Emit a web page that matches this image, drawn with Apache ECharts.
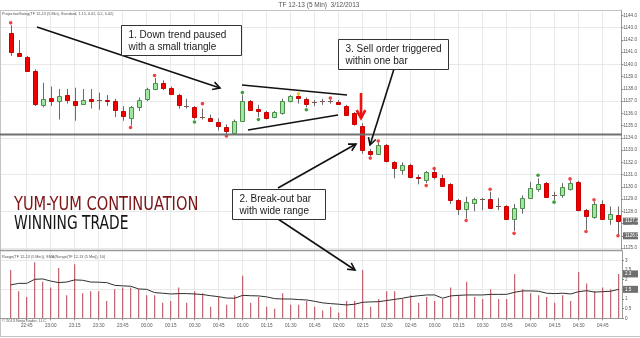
<!DOCTYPE html>
<html>
<head>
<meta charset="utf-8">
<script src="https://cdn.jsdelivr.net/npm/echarts@6/dist/echarts.min.js"></script>
<style>
  html, body { margin: 0; padding: 0; background: #fff; }
  #chart { width: 640px; height: 338px; }
</style>
</head>
<body>
<div id="chart"></div>
<script>
// ---- TF 12-13, 5 minute bars, 3/12/2013 ----
const barTimes = [
  '22:35','22:40','22:45','22:50','22:55','23:00','23:05','23:10','23:15','23:20',
  '23:25','23:30','23:35','23:40','23:45','23:50','23:55','00:00','00:05','00:10',
  '00:15','00:20','00:25','00:30','00:35','00:40','00:45','00:50','00:55','01:00',
  '01:05','01:10','01:15','01:20','01:25','01:30','01:35','01:40','01:45','01:50',
  '01:55','02:00','02:05','02:10','02:15','02:20','02:25','02:30','02:35','02:40',
  '02:45','02:50','02:55','03:00','03:05','03:10','03:15','03:20','03:25','03:30',
  '03:35','03:40','03:45','03:50','03:55','04:00','04:05','04:10','04:15','04:20',
  '04:25','04:30','04:35','04:40','04:45','04:50','04:55'
];

const opens = [
  1142.6,1140.9,1140.6,1139.5,1136.7,1137.3,1137.0,1137.5,1137.0,1136.8,
  1137.2,1137.1,1137.1,1137.0,1136.2,1135.6,1136.5,1137.2,1138.0,1138.5,
  1138.1,1137.5,1136.6,1136.5,1135.7,1135.6,1135.3,1134.9,1134.4,1135.4,
  1137.0,1136.4,1136.1,1135.7,1136.0,1137.0,1137.4,1137.2,1136.9,1137.0,
  1137.0,1136.9,1136.6,1136.0,1135.0,1132.9,1132.7,1133.4,1132.0,1131.4,
  1131.8,1130.8,1130.6,1131.2,1130.7,1130.2,1128.9,1128.2,1128.7,1129.0,
  1129.0,1128.4,1128.4,1127.4,1128.3,1129.1,1129.8,1130.3,1129.3,1129.3,
  1129.8,1130.4,1128.1,1127.5,1128.6,1127.4,1127.7
];
const highs = [
  1143.2,1142.0,1140.7,1139.6,1138.5,1138.2,1138.0,1138.0,1138.1,1138.0,
  1138.0,1137.7,1137.5,1137.2,1136.6,1136.6,1137.3,1138.1,1138.9,1138.7,
  1138.2,1137.6,1137.2,1136.6,1136.4,1135.9,1135.6,1135.1,1135.5,1137.5,
  1137.1,1136.7,1136.2,1136.2,1137.2,1137.5,1137.5,1137.3,1137.1,1137.2,
  1137.1,1137.1,1136.7,1136.1,1135.2,1133.1,1133.6,1133.5,1132.1,1132.0,
  1131.9,1131.0,1131.3,1131.4,1131.0,1130.3,1129.0,1129.2,1129.1,1129.1,
  1129.6,1129.1,1128.5,1128.6,1129.3,1130.4,1130.7,1130.4,1129.6,1130.3,
  1130.5,1130.5,1128.2,1128.8,1128.9,1128.4,1128.4
];
const lows = [
  1140.7,1140.6,1139.5,1136.6,1136.5,1136.6,1135.5,1136.8,1135.4,1136.7,
  1136.4,1136.3,1136.6,1135.7,1135.4,1135.0,1136.2,1137.0,1137.9,1137.9,
  1137.5,1136.4,1136.4,1135.5,1135.5,1135.3,1134.6,1134.3,1134.3,1135.3,
  1136.2,1135.7,1135.5,1135.6,1135.9,1136.9,1136.8,1136.5,1136.6,1136.7,
  1136.8,1136.7,1135.8,1135.0,1132.7,1132.5,1132.6,1132.0,1130.7,1131.0,
  1130.7,1130.2,1130.3,1130.6,1130.0,1128.6,1127.7,1127.4,1128.0,1128.1,
  1128.2,1128.1,1127.4,1126.4,1127.8,1129.0,1129.6,1129.2,1128.9,1129.1,
  1129.7,1128.0,1126.5,1127.4,1127.3,1126.9,1126.1
];
const closes = [
  1141.0,1140.7,1139.5,1136.8,1137.2,1137.0,1137.4,1137.1,1136.7,1137.1,
  1137.0,1137.1,1137.0,1136.3,1135.8,1136.5,1137.1,1138.0,1138.5,1138.1,
  1137.6,1136.7,1136.6,1135.7,1135.7,1135.4,1135.0,1134.6,1135.4,1137.0,
  1136.3,1136.2,1135.6,1136.1,1137.0,1137.4,1137.3,1136.8,1136.9,1137.0,
  1137.0,1136.8,1135.9,1135.1,1133.0,1132.7,1133.4,1132.1,1131.5,1131.8,
  1130.8,1130.7,1131.2,1130.8,1130.1,1128.9,1128.2,1128.8,1129.0,1129.0,
  1128.3,1128.4,1127.4,1128.3,1129.1,1129.9,1130.2,1129.2,1129.3,1130.0,
  1130.3,1128.1,1127.6,1128.6,1127.4,1127.8,1127.2
];

// ProjectionSwing markers: [bar index, price]
const swingRed = [
  [0,1143.4],[15,1134.85],[18,1139.1],[24,1136.8],[27,1134.15],[40,1137.25],
  [45,1132.35],[46,1133.75],[52,1130.1],[53,1131.5],[57,1127.25],[60,1129.8],
  [63,1126.2],[70,1130.65],[72,1126.35],[73,1128.95],[76,1126.0]
];
const swingGreen = [[23,1135.3],[29,1137.7],[31,1135.5],[37,1136.3],[66,1130.95],[68,1128.75]];
const swingYellow = [[36,1137.6]];

// Range and its 10-period SMA
const ranges = [
  2.5,1.4,1.1,2.9,1.9,1.6,2.6,1.2,2.8,1.3,1.4,1.4,0.9,1.5,1.6,1.6,1.5,1.2,1.2,0.8,
  0.9,1.6,0.8,1.4,1.3,0.6,1.1,0.7,1.2,2.2,0.8,1.1,0.6,0.5,1.3,0.7,0.7,0.9,0.6,0.4,
  0.6,0.3,0.9,0.9,2.5,0.6,1.0,1.4,1.4,1.0,1.2,0.8,1.1,0.9,1.0,1.6,1.2,1.9,1.1,1.0,
  1.5,1.0,1.0,2.3,1.5,1.3,1.2,1.1,0.8,1.2,0.9,2.4,1.8,1.4,1.6,1.5,2.3
];
const rangeSma = [
  1.73,1.81,1.81,2.02,2.04,1.93,1.85,1.88,1.99,1.97,1.88,1.87,1.85,1.71,1.68,1.66,1.52,1.50,1.33,1.30,
  1.26,1.28,1.28,1.26,1.23,1.17,1.12,1.05,1.04,1.19,1.17,1.16,1.11,1.02,1.00,1.00,0.97,0.95,0.88,0.80,
  0.76,0.73,0.69,0.73,0.83,0.85,0.86,0.92,0.98,1.04,1.12,1.17,1.21,1.21,1.04,1.16,1.19,1.21,1.21,1.21,
  1.24,1.24,1.24,1.35,1.42,1.42,1.40,1.30,1.28,1.30,1.26,1.38,1.43,1.36,1.38,1.40,1.50
];

const priceTicks = [1125,1126,1127,1128,1129,1130,1131,1132,1133,1134,1135,1136,1137,1138,1139,1140,1141,1142,1143,1144];
const rangeTicks = [0,0.5,1,1.5,2,2.5,3];
const supportLevel = 1134.3;   // swing low of the down leg
const swingLevel = 1126.0;     // current projection swing level

// ---- layout ----
const PLOT_L = 10.7, PLOT_R = 21.3, FRAME_R = 622;
const P_TOP = 10, P_H = 240, P_MIN = 1124.84, P_MAX = 1144.45;
const R_TOP = 250.75, R_H = 67.55, R_MIN = 0, R_MAX = 3.5;
const pY = p => P_TOP + (P_MAX - p) / (P_MAX - P_MIN) * P_H;
const rY = v => R_TOP + (R_MAX - v) / (R_MAX - R_MIN) * R_H;

const labelEvery = idx => idx >= 2 && (idx - 2) % 3 === 0;
const GRID_C = '#e9e9e9';
const tiny = 4.6;

const chart = echarts.init(document.getElementById('chart'), null, { renderer: 'canvas' });

const candleData = opens.map((o, i) => [i, o, closes[i], lows[i], highs[i]]);

chart.setOption({
  animation: false,
  backgroundColor: '#fff',
  grid: [
    { left: PLOT_L, right: PLOT_R, top: P_TOP, height: P_H },
    { left: PLOT_L, right: PLOT_R, top: R_TOP, height: R_H },
    { left: 0, right: 640 - FRAME_R, top: pY(1143), height: pY(1125) - pY(1143) },
    { left: 0, right: 640 - FRAME_R, top: rY(3), height: rY(0) - rY(3) }
  ],
  xAxis: [
    { gridIndex: 0, type: 'category', data: barTimes, boundaryGap: false,
      axisLine: { show: false }, axisTick: { show: false }, axisLabel: { show: false },
      splitLine: { show: true, interval: labelEvery, lineStyle: { color: GRID_C, width: 1 } } },
    { gridIndex: 1, type: 'category', data: barTimes, boundaryGap: false,
      axisLine: { show: false },
      axisTick: { show: true, interval: labelEvery, length: 2, lineStyle: { color: '#888' } },
      axisLabel: { show: true, interval: labelEvery, fontSize: tiny, color: '#555', margin: 5,
                   fontFamily: 'Liberation Sans' },
      splitLine: { show: true, interval: labelEvery, lineStyle: { color: GRID_C, width: 1 } } },
    { gridIndex: 2, type: 'value', show: false, min: 0, max: 1 },
    { gridIndex: 3, type: 'value', show: false, min: 0, max: 1 }
  ],
  yAxis: [
    { gridIndex: 0, type: 'value', position: 'right', offset: FRAME_R - (640 - PLOT_R),
      min: P_MIN, max: P_MAX, interval: 1,
      axisLine: { show: true, lineStyle: { color: '#999' } },
      axisTick: { show: true, length: 2, customValues: priceTicks, lineStyle: { color: '#888' } },
      axisLabel: { customValues: priceTicks, formatter: v => v.toFixed(1), fontSize: tiny,
                   color: '#555', margin: 2, fontFamily: 'Liberation Sans' },
      splitLine: { show: false } },
    { gridIndex: 1, type: 'value', position: 'right', offset: FRAME_R - (640 - PLOT_R),
      min: R_MIN, max: R_MAX, interval: 0.5,
      axisLine: { show: true, lineStyle: { color: '#999' } },
      axisTick: { show: true, length: 2, customValues: rangeTicks, lineStyle: { color: '#888' } },
      axisLabel: { customValues: rangeTicks, formatter: v => String(v), fontSize: tiny,
                   color: '#555', margin: 3, fontFamily: 'Liberation Sans' },
      splitLine: { show: false } },
    { gridIndex: 2, type: 'value', min: 1125, max: 1143, interval: 3,
      axisLine: { show: false }, axisTick: { show: false }, axisLabel: { show: false },
      splitLine: { show: true, lineStyle: { color: GRID_C, width: 1 } } },
    { gridIndex: 3, type: 'value', min: 0, max: 3, interval: 1.5,
      axisLine: { show: false }, axisTick: { show: false }, axisLabel: { show: false },
      splitLine: { show: true, lineStyle: { color: GRID_C, width: 1 } } }
  ],
  series: [
    {
      name: 'TF 12-13', type: 'custom', xAxisIndex: 0, yAxisIndex: 0, z: 3,
      data: candleData,
      encode: { x: 0, y: [1, 2, 3, 4] },
      renderItem: function (params, api) {
        const i = api.value(0);
        const o = api.value(1), c = api.value(2), l = api.value(3), h = api.value(4);
        const pO = api.coord([i, o]), pC = api.coord([i, c]);
        const pL = api.coord([i, l]), pH = api.coord([i, h]);
        const xc = Math.round(pO[0]) + 0.5;
        const top = Math.round(Math.min(pO[1], pC[1])) + 0.5;
        const bot = Math.round(Math.max(pO[1], pC[1])) + 0.5;
        const kids = [{
          type: 'line',
          shape: { x1: xc, y1: pH[1], x2: xc, y2: pL[1] },
          style: { stroke: '#6a6a6a', lineWidth: 1 }
        }];
        if (c === o) {
          kids.push({ type: 'line', shape: { x1: xc - 2.5, y1: top, x2: xc + 2.5, y2: top },
                      style: { stroke: '#7a5a50', lineWidth: 1 } });
        } else {
          const up = c > o;
          kids.push({ type: 'rect',
                      shape: { x: xc - 2, y: top, width: 4, height: Math.max(bot - top, 1) },
                      style: { fill: up ? '#9ee89e' : '#f20000',
                               stroke: up ? '#4f8a4f' : '#c40000', lineWidth: 1 } });
        }
        return { type: 'group', children: kids };
      }
    },
    { name: 'Swing high/low', type: 'scatter', xAxisIndex: 0, yAxisIndex: 0, z: 4,
      data: swingRed, symbolSize: 3.6, itemStyle: { color: '#ee1111' }, silent: true },
    { name: 'Swing green', type: 'scatter', xAxisIndex: 0, yAxisIndex: 0, z: 4,
      data: swingGreen, symbolSize: 3.6, itemStyle: { color: '#108a10' }, silent: true },
    { name: 'Swing yellow', type: 'scatter', xAxisIndex: 0, yAxisIndex: 0, z: 4,
      data: swingYellow, symbolSize: 3.6, itemStyle: { color: '#f0c000' }, silent: true },
    { name: 'Range', type: 'bar', xAxisIndex: 1, yAxisIndex: 1, data: ranges,
      barWidth: 1, itemStyle: { color: '#b8434e' }, silent: true },
    { name: 'SMA(Range,10)', type: 'line', xAxisIndex: 1, yAxisIndex: 1, data: rangeSma,
      showSymbol: false, lineStyle: { color: '#2f2f2f', width: 1 }, silent: true, z: 5 }
  ]
});

// ---- overlay: frame, levels, value tags and annotations ----
function arrow(x1, y1, x2, y2, color, w, len) {
  const a = Math.atan2(y2 - y1, x2 - x1), s = 0.5, L = len || 8;
  return [
    { type: 'line', shape: { x1, y1, x2, y2 }, style: { stroke: color, lineWidth: w } },
    { type: 'polyline',
      shape: { points: [[x2 - L * Math.cos(a - s), y2 - L * Math.sin(a - s)], [x2, y2],
                        [x2 - L * Math.cos(a + s), y2 - L * Math.sin(a + s)]] },
      style: { stroke: color, lineWidth: w, fill: null } }
  ];
}
function hline(y, x1, x2, color, w) {
  return { type: 'line', shape: { x1, y1: y, x2, y2: y }, style: { stroke: color, lineWidth: w || 1 } };
}
function box(x, y, w, h, lines) {
  const els = [{ type: 'rect', shape: { x, y, width: w, height: h },
                 style: { fill: '#fff', stroke: '#333', lineWidth: 1 } }];
  lines.forEach((t, k) => els.push({
    type: 'text', x: x + 7, y: y + 9.5 + k * 12,
    style: { text: t, fill: '#1a1a1a', font: '10px "Liberation Sans", Arial, sans-serif',
             verticalAlign: 'middle' } }));
  return els;
}
function tag(y, text) {
  return [
    { type: 'rect', shape: { x: 623, y: y - 3.5, width: 15, height: 7 }, style: { fill: '#6f6f6f' } },
    { type: 'text', x: 625, y: y,
      style: { text, fill: '#fff', font: tiny + 'px "Liberation Sans"', verticalAlign: 'middle' } }
  ];
}

const yPx = v => chart.convertToPixel({ yAxisIndex: 0 }, v);
const yRx = v => chart.convertToPixel({ yAxisIndex: 1 }, v);
const lastClose = closes[closes.length - 1];
const lastRange = ranges[ranges.length - 1];
const lastSma = rangeSma[rangeSma.length - 1];

const narrow = '"Liberation Sans Narrow", "DejaVu Sans Condensed", "Liberation Sans", sans-serif';
let els = [
  hline(10.5, 0, FRAME_R, '#c4c4c4'),
  { type: 'line', shape: { x1: 0.5, y1: 10, x2: 0.5, y2: 336 }, style: { stroke: '#c4c4c4', lineWidth: 1 } },
  hline(250.5, 0, FRAME_R, '#9a9a9a', 1.5),
  hline(318.5, 0, FRAME_R, '#9a9a9a', 1),
  hline(336.5, 0, 640, '#c4c4c4', 1),
  hline(Math.round(yPx(supportLevel)) + 0.5, 0, FRAME_R, '#707070', 2),

  { type: 'text', x: 319, y: 5.5,
    style: { text: 'TF 12-13 (5 Min)  3/12/2013', fill: '#555', font: '6.5px "Liberation Sans"',
             align: 'center', verticalAlign: 'middle' } },
  { type: 'text', x: 2, y: 13.5,
    style: { text: 'ProjectionSwing(TF 12-13 (5 Min), Standard, 1.15, 0.02, 0.2, 0.02)',
             fill: '#555', font: '3.8px "Liberation Sans"', verticalAlign: 'middle' } },
  { type: 'text', x: 2, y: 256.5,
    style: { text: 'Range(TF 12-13 (5 Min)), SMA(Range(TF 12-13 (5 Min)), 10)',
             fill: '#555', font: '3.8px "Liberation Sans"', verticalAlign: 'middle' } },
  { type: 'text', x: 2, y: 321,
    style: { text: '\u00a9 2013 NinjaTrader, LLC', fill: '#555', font: '4px "Liberation Sans"',
             verticalAlign: 'middle' } },

  // headline, horizontally condensed
  { type: 'text', x: 14, y: 205, scaleX: 0.855,
    style: { text: 'YUM-YUM CONTINUATION', fill: '#7c1416', font: '19px ' + narrow,
             verticalAlign: 'middle' } },
  { type: 'text', x: 14, y: 224.5, scaleX: 0.81,
    style: { text: 'WINNING TRADE', fill: '#141414', font: '19px ' + narrow,
             verticalAlign: 'middle' } }
];

els = els.concat(
  tag(yPx(lastClose), lastClose.toFixed(1)),
  tag(yPx(swingLevel), swingLevel.toFixed(1)),
  tag(yRx(lastRange), lastRange.toFixed(1)),
  tag(yRx(lastSma), lastSma.toFixed(1)),

  arrow(37, 27, 220, 88, '#111', 1.6),
  [{ type: 'line', shape: { x1: 242, y1: 85, x2: 347, y2: 95 }, style: { stroke: '#111', lineWidth: 1.6 } },
   { type: 'line', shape: { x1: 248, y1: 130, x2: 338, y2: 115 }, style: { stroke: '#111', lineWidth: 1.6 } }],
  arrow(361, 93, 361, 118, '#ee1111', 2.6, 9),
  arrow(394, 69, 370, 145, '#111', 1.6),
  arrow(278, 188, 356, 144, '#111', 1.6),
  arrow(278, 219, 355, 270, '#111', 1.6),

  box(121.5, 25.5, 120, 30, ['1. Down trend paused', 'with a small triangle']),
  box(338.5, 39.5, 110, 30, ['3. Sell order triggered', 'within one bar']),
  box(232.5, 189.5, 93, 30, ['2. Break-out bar', 'with wide range'])
);

chart.setOption({ graphic: { elements: els.map(e => Object.assign({ z: 100, silent: true }, e)) } });
</script>
</body>
</html>
